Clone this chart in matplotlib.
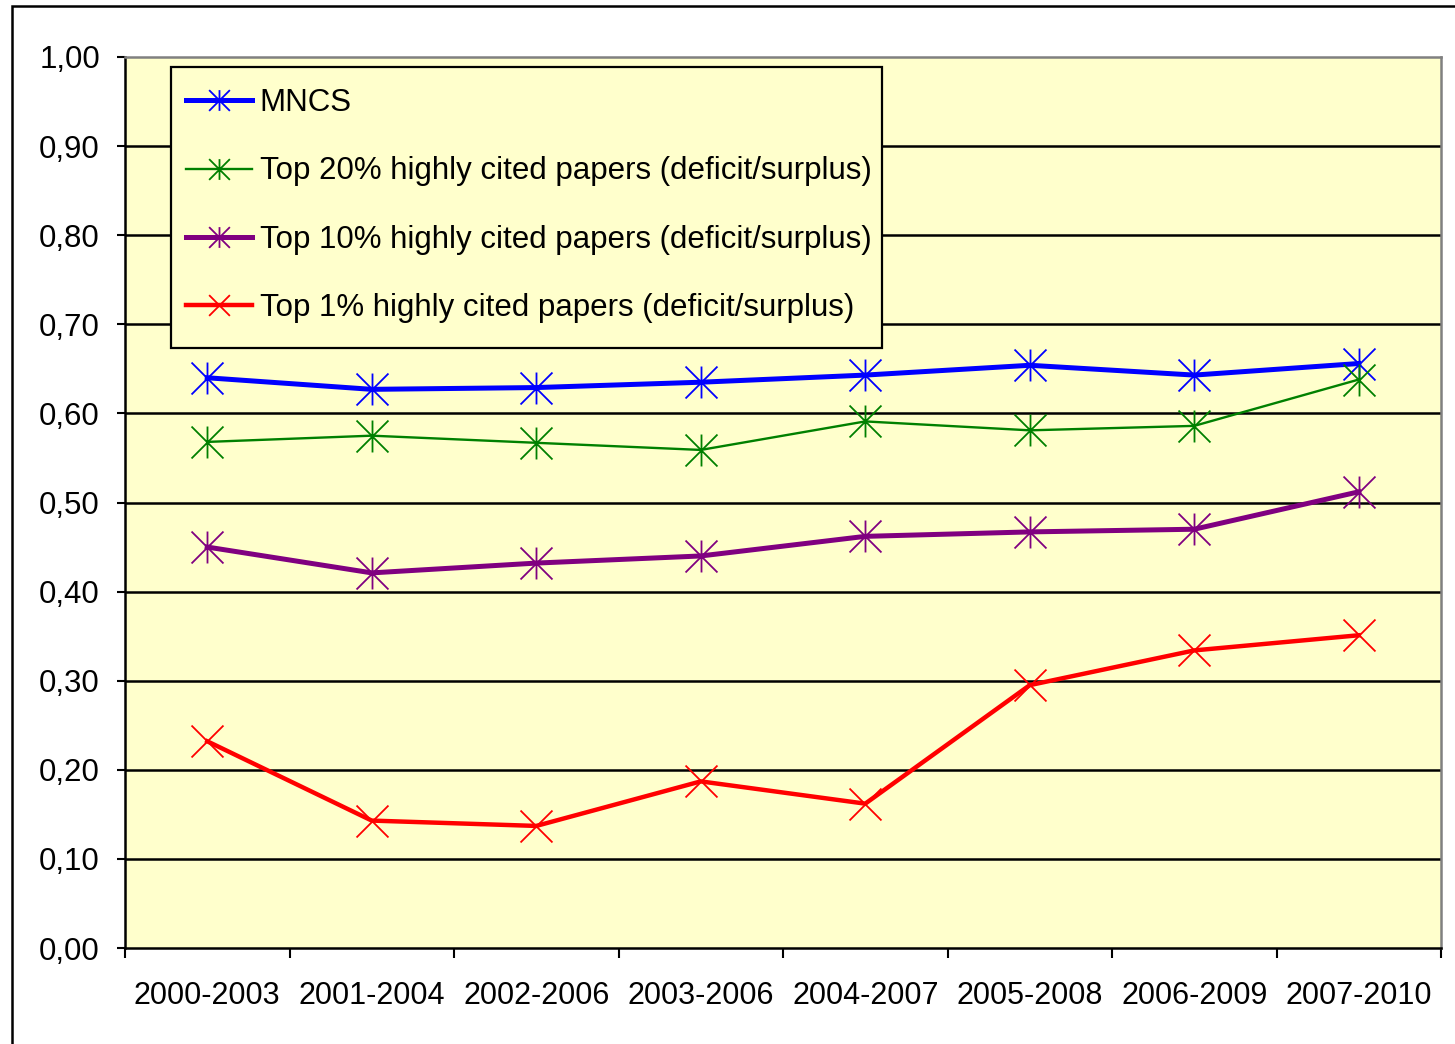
import matplotlib
matplotlib.use("Agg")
import matplotlib.pyplot as plt
from matplotlib.path import Path
from matplotlib.patches import Rectangle
import numpy as np

plt.rcParams['font.family'] = ['Liberation Sans', 'DejaVu Sans']

periods = ["2000-2003", "2001-2004", "2002-2006", "2003-2006",
           "2004-2007", "2005-2008", "2006-2009", "2007-2010"]
mncs = [0.640, 0.627, 0.629, 0.635, 0.643, 0.654, 0.643, 0.656]
top20 = [0.568, 0.575, 0.567, 0.559, 0.591, 0.581, 0.586, 0.638]
top10 = [0.450, 0.421, 0.432, 0.440, 0.462, 0.467, 0.470, 0.512]
top1 = [0.232, 0.143, 0.137, 0.187, 0.162, 0.295, 0.334, 0.351]
labels = ["MNCS",
          "Top 20% highly cited papers (deficit/surplus)",
          "Top 10% highly cited papers (deficit/surplus)",
          "Top 1% highly cited papers (deficit/surplus)"]
yticks = [0.0, 0.1, 0.2, 0.3, 0.4, 0.5, 0.6, 0.7, 0.8, 0.9, 1.0]

star = Path([(-1, -1), (1, 1), (-1, 1), (1, -1), (0, -1), (0, 1)],
            [Path.MOVETO, Path.LINETO, Path.MOVETO, Path.LINETO, Path.MOVETO, Path.LINETO])
cross = Path([(-1, -1), (1, 1), (-1, 1), (1, -1)],
             [Path.MOVETO, Path.LINETO, Path.MOVETO, Path.LINETO])

W, H = 1455, 1044
fig = plt.figure(figsize=(W / 100, H / 100), dpi=100)
fig.patch.set_facecolor('white')
fig.patches.append(Rectangle((12/W, -0.05), 1.1, 1 - 6/H + 0.05, transform=fig.transFigure,
                             fill=False, edgecolor='black', linewidth=1.8, zorder=0))

ax = fig.add_axes([125/W, 1 - 948/H, (1441 - 125)/W, (948 - 57)/H])
ax.set_facecolor('#FFFFCC')

x = np.arange(len(periods))
series = [
    (mncs, '#0000FF', 3.6, star),
    (top20, '#008000', 1.7, star),
    (top10, '#800080', 3.6, star),
    (top1, '#FF0000', 3.2, cross),
]
for (vals, col, lw, mk), lab in zip(series, labels):
    ax.plot(x, vals, color=col, linewidth=lw, marker=mk, markersize=23,
            markeredgewidth=1.3, markeredgecolor=col, markerfacecolor='none',
            label=lab, zorder=3)

ax.set_ylim(0, 1.0)
ax.set_xlim(-0.5, len(periods) - 0.5)
ax.set_yticks(yticks)
ax.set_yticklabels([f"{v:.2f}".replace('.', ',') for v in yticks], fontsize=22.5)
for v in yticks[1:-1]:
    ax.axhline(v, color='black', linewidth=1.8, zorder=1)

ax.set_xticks(np.arange(-0.5, len(periods), 1.0))
ax.set_xticklabels([])
ax.set_xticks(x, minor=True)
ax.set_xticklabels(periods, minor=True, fontsize=22)
ax.tick_params(axis='x', which='minor', length=0, pad=24)
ax.tick_params(axis='x', which='major', length=7, width=1.5, direction='out')
ax.tick_params(axis='y', length=6, width=1.5, direction='out', pad=12)

ax.spines['left'].set_linewidth(1.8)
ax.spines['bottom'].set_linewidth(1.8)
ax.spines['top'].set_color('#808080')
ax.spines['right'].set_color('#808080')
ax.spines['top'].set_linewidth(1.8)
ax.spines['right'].set_linewidth(1.8)

# legend box
lbox = Rectangle((171/W, 1 - 348/H), (882 - 171)/W, (348 - 67)/H, transform=fig.transFigure,
                 facecolor='#FFFFCC', edgecolor='black', linewidth=1.6, zorder=4)
ax.add_artist(lbox)
lbox.set_clip_on(False)

leg = ax.legend(loc='upper left', bbox_to_anchor=(166/W, 1 - 68/H),
                bbox_transform=fig.transFigure, borderaxespad=0,
                fontsize=22.5, frameon=False, borderpad=0.65,
                labelspacing=1.22, handlelength=2.1, handletextpad=0.25,
                markerscale=0.65)
leg.set_zorder(5)

fig.savefig("out.png", dpi=100)
